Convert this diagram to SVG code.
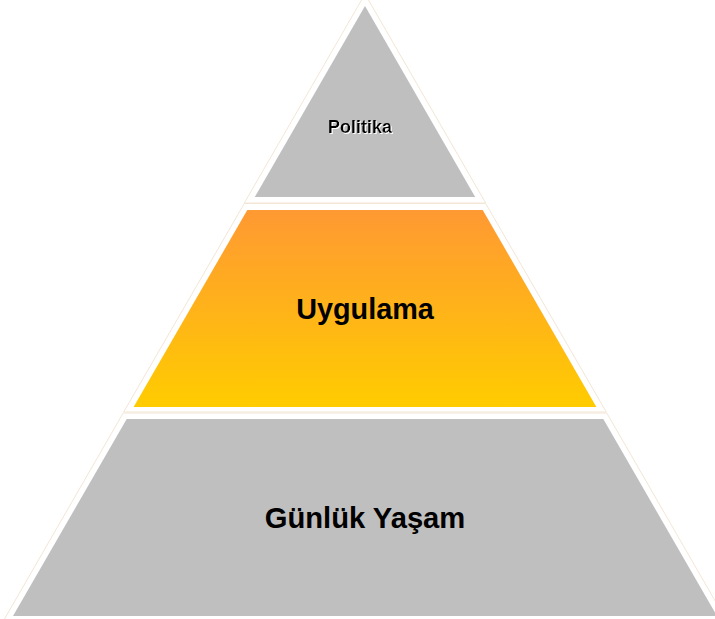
<svg xmlns="http://www.w3.org/2000/svg" width="715" height="619" viewBox="0 0 715 619">
<defs>
<linearGradient id="orange" x1="0" y1="0" x2="0" y2="1">
<stop offset="0" stop-color="#FF9933"/>
<stop offset="1" stop-color="#FFCC00"/>
</linearGradient>
<filter id="wshadow" x="-10%" y="-30%" width="120%" height="160%">
<feDropShadow dx="1" dy="1" stdDeviation="0" flood-color="#ffffff" flood-opacity="1"/>
</filter>
<style>
.outline{fill:#ffffff;stroke:#f3e6d6;stroke-width:1}
.gray{fill:#bfbfbf}
.lbl{font-family:"Liberation Sans",Arial,sans-serif;font-weight:bold;fill:#000000;text-anchor:middle}
</style>
</defs>
<rect width="715" height="619" fill="#ffffff"/>
<g id="connectors"></g>
<g id="node-politika">
<polygon class="outline" points="365,-6 244.3,203 485.7,203"/>
<polygon class="gray" points="365,6 254.8,197 475.2,197"/>
<text class="lbl" x="360" y="133" font-size="18" filter="url(#wshadow)">Politika</text>
</g>
<g id="node-uygulama">
<polygon class="outline" points="244.3,203.5 485.7,203.5 606.3,412 123.7,412"/>
<polygon fill="url(#orange)" points="247.3,210 482.7,210 596.4,407 133.6,407"/>
<text class="lbl" x="365" y="319" font-size="28.8">Uygulama</text>
</g>
<g id="node-gunluk">
<polygon class="outline" points="123.2,413 606.8,413 729,625 1,625"/>
<polygon class="gray" points="126.7,419 603.3,419 717,616 13,616"/>
<text class="lbl" x="365" y="528" font-size="29.2">Günlük Yaşam</text>
</g>
</svg>
